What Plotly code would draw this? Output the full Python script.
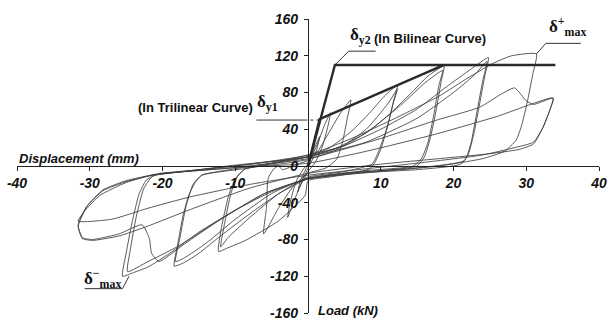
import plotly.graph_objects as go

# ---- hysteresis cycles: displacement (mm) / load (kN) ----
c0_disp = [0, 0.8, 1.6, 1.2, 0.3, -0.6, -1.4, -1.0, -0.2, 0]
c0_load = [0, 18, 32, 18, 2, -12, -28, -15, -2, 0]

c1_disp = [0, 1.2, 2.3, 3.1, 2.7, 2.0, 1.0, 0, -1.2, -2.2, -2.8, -2.4, -1.6, -0.5, 0]
c1_load = [2, 22, 45, 58, 42, 22, 4, -6, -24, -44, -56, -38, -16, -2, 2]

c2_disp = [-3.5, -1.5, 0, 1.5, 3.0, 4.5, 5.9, 5.4, 4.8, 4.0, 2.5, 0, -2.0, -4.0, -6.1, -5.7, -5.5, -4.8, -4.1, -3.5]
c2_load = [-4, 2, 6, 18, 38, 58, 72, 52, 28, 8, -2, -8, -22, -45, -74, -45, -14, -4, 0, -4]

c3_disp = [-8.6, -6, -3, 0, 3, 6, 8.5, 10.5, 12.3, 11.8, 11.0, 10.0, 9.2, 8.5, 6, 3, 0, -0.4, -4.1, -8.6, -11, -12.3, -11.9, -10.9, -10.0, -8.6]
c3_load = [-3, 1, 5, 10, 20, 38, 58, 76, 88, 72, 45, 18, 4, -3, -8, -12, -16, -32, -60, -81, -89, -93, -67, -32, -14, -3]

c3b_disp = [-8.6, -3, 0, 4, 8, 11, 12.3, 11.7, 10.8, 9.6, 8.8, 5, 0, -4, -8, -11, -12.0, -11.5, -10.6, -9.6, -8.6]
c3b_load = [-3, 3, 7, 18, 40, 68, 84, 68, 40, 14, 2, -6, -12, -30, -56, -78, -88, -64, -30, -10, -3]

c4_disp = [-14.6, -10, -5, 0, 4, 8, 11, 14, 16.5, 18.7, 18.3, 17.6, 16.8, 16.0, 15.0, 10, 5, 0, -4, -8, -12, -15, -17, -18.4, -17.9, -17.2, -16.4, -15.5, -14.6]
c4_load = [-10, -3, 3, 10, 20, 36, 55, 78, 98, 109, 92, 60, 30, 10, 0, -5, -8, -14, -30, -52, -76, -95, -105, -109, -85, -55, -32, -18, -10]

c4b_disp = [-14.6, -8, 0, 5, 9, 13, 16, 18.5, 18.0, 17.3, 16.5, 15.6, 14.5, 8, 0, -5, -10, -14, -17, -18.2, -17.6, -16.8, -15.8, -14.6]
c4b_load = [-10, -2, 12, 22, 42, 68, 90, 104, 88, 56, 26, 8, 0, -5, -13, -30, -58, -84, -100, -104, -78, -45, -20, -10]

c5_disp = [-21, -15, -10, -5, 0, 5, 10, 15, 19, 22.5, 24.8, 24.3, 23.6, 22.8, 22.0, 21, 15, 8, 0, -5, -10, -15, -19, -22, -24, -25.5, -25.0, -24.2, -23.2, -22.2, -21]
c5_load = [-10, -4, 1, 5, 10, 22, 40, 62, 86, 106, 118, 98, 68, 35, 12, 2, -4, -7, -14, -28, -48, -72, -95, -110, -116, -120, -95, -62, -30, -15, -10]

c5b_disp = [-21, -10, 0, 8, 15, 20, 23, 24.6, 24.0, 23.2, 22.4, 21.5, 15, 5, 0, -6, -12, -18, -22, -24.8, -24.4, -23.6, -22.6, -21.5, -21]
c5b_load = [-10, 0, 10, 26, 52, 80, 100, 114, 92, 58, 25, 6, -2, -8, -14, -30, -58, -88, -104, -115, -90, -55, -25, -12, -10]

c6_disp = [-20.5, -15, -8, 0, 6, 12, 18, 22, 25.5, 28, 31.4, 30.9, 30.2, 29.4, 28.6, 27, 24, 18, 10, 0, -6, -12, -17, -20.5, -21.5, -21.8, -22.8, -26, -29.6, -31, -31.6, -30.4, -28.2, -25, -20.9]
c6_load = [-8, -4, 2, 12, 30, 52, 76, 96, 112, 120, 122, 100, 72, 45, 28, 16, 8, 0, -6, -14, -30, -58, -85, -104, -95, -79, -64, -74, -80, -78, -64, -44, -27, -17, -9]

c7_disp = [-20.9, -12, 0, 10, 17.7, 23.6, 26.5, 28.4, 30, 31, 33.7, 33.2, 32.3, 31, 29, 24.5, 18, 10, 0, -8, -16.4, -22.2, -25.9, -29.6, -31, -31.6, -30.4, -28.2, -25, -20.9]
c7_load = [-9, -3, 8, 30, 50, 64, 78, 85, 71, 67, 74, 60, 42, 24, 18, 13, 8, 2, -8, -24, -48, -66, -76, -81, -79, -66, -44, -26, -16, -9]

c8_disp = [-20.9, -10, 0, 8, 17.7, 26, 33.7, 33.2, 32.3, 31, 28.4, 24, 16, 8, 0, -8, -16.4, -22, -27, -31.6, -30.6, -28.6, -25, -20.9]
c8_load = [-9, -2, 3, 16, 35, 54, 74, 60, 42, 26, 20, 12, 4, -3, -10, -20, -34, -46, -58, -60, -48, -32, -18, -9]

cycles = [
    (c0_disp, c0_load), (c1_disp, c1_load), (c2_disp, c2_load),
    (c3_disp, c3_load), (c3b_disp, c3b_load),
    (c4_disp, c4_load), (c4b_disp, c4b_load),
    (c5_disp, c5_load), (c5b_disp, c5b_load),
    (c6_disp, c6_load), (c7_disp, c7_load), (c8_disp, c8_load),
]

# ---- idealised backbone curves ----
bilinear_disp = [0, 3.7, 34]
bilinear_load = [0, 110, 110]
trilinear_disp = [0, 1.6, 18.7]
trilinear_load = [0, 51, 110]

x_ticks = [-40, -30, -20, -10, 10, 20, 30, 40]
y_ticks = [-160, -120, -80, -40, 0, 40, 80, 120, 160]

fig = go.Figure()

for d, f in cycles:
    fig.add_trace(go.Scatter(
        x=d, y=f, mode="lines",
        line=dict(color="#3c3c3c", width=0.85, shape="spline", smoothing=0.5),
        hoverinfo="skip", showlegend=False))

fig.add_trace(go.Scatter(
    x=trilinear_disp, y=trilinear_load, mode="lines",
    line=dict(color="#2a2a2a", width=2.4), showlegend=False))
fig.add_trace(go.Scatter(
    x=bilinear_disp, y=bilinear_load, mode="lines",
    line=dict(color="#2a2a2a", width=2.4), showlegend=False))

# leader lines for the labelled points
leader = dict(color="#333", width=1)
fig.add_trace(go.Scatter(x=[9.3, 5.6, 3.7], y=[125, 125, 110], mode="lines",
                         line=leader, showlegend=False))
fig.add_trace(go.Scatter(x=[37.5, 32.7, 31.4], y=[133.5, 133.5, 122], mode="lines",
                         line=leader, showlegend=False))
fig.add_trace(go.Scatter(x=[-30.7, -25.5, -24.6], y=[-133.5, -133.5, -120], mode="lines",
                         line=leader, showlegend=False))
fig.add_trace(go.Scatter(x=[-7.1, -0.5], y=[50, 50], mode="lines",
                         line=leader, showlegend=False))
fig.add_trace(go.Scatter(x=[-0.5, 1.6], y=[50, 50], mode="lines",
                         line=dict(color="#333", width=1, dash="dot"), showlegend=False))

axis_font = dict(family="Liberation Sans", size=14, color="#111", weight="bold", style="italic")
title_font = dict(family="Liberation Sans", size=13, color="#111", weight="bold", style="italic")

fig.update_layout(
    width=612, height=326,
    margin=dict(l=17, r=8, t=19, b=5),
    paper_bgcolor="white", plot_bgcolor="white",
    xaxis=dict(range=[-40, 40], anchor="free", position=0.5,
               showline=True, linecolor="#222", linewidth=1.3,
               ticks="outside", ticklen=4, tickcolor="#222",
               tickvals=x_ticks, ticktext=[str(v) for v in x_ticks],
               tickfont=axis_font, ticklabeloverflow="allow",
               showgrid=False, zeroline=False),
    yaxis=dict(range=[-160, 160], anchor="free", position=0.5,
               showline=True, linecolor="#222", linewidth=1.3,
               ticks="outside", ticklen=4, tickcolor="#222",
               tickvals=y_ticks, ticktext=[str(v) for v in y_ticks],
               tickfont=axis_font, ticklabeloverflow="allow",
               ticklabelstandoff=3,
               showgrid=False, zeroline=False),
)

label_font = dict(family="Liberation Sans", size=13, color="#111", weight="bold")
delta_font = dict(family="Liberation Serif", size=17, color="#111", weight="bold")

annotations = [
    dict(x=0.0, y=0.527, xref="paper", yref="paper", text="Displacement (mm)",
         xanchor="left", yanchor="middle", font=title_font),
    dict(x=1.1, y=-157, text="Load (kN)", xanchor="left", font=title_font),
    dict(x=5.5, y=141, text="δ<sub>y2</sub>", xanchor="left", font=delta_font),
    dict(x=8.8, y=139, text="(In Bilinear Curve)", xanchor="left", font=label_font),
    dict(x=32.9, y=152, text="δ<sup>+</sup><sub>max</sub>", xanchor="left", font=delta_font),
    dict(x=-31.0, y=-122, text="δ<sup>−</sup><sub>max</sub>", xanchor="left", font=delta_font),
    dict(x=-7.3, y=69, text="δ<sub>y1</sub>", xanchor="left", font=delta_font),
    dict(x=-7.3, y=63.5, text="(In Trilinear Curve)", xanchor="right", font=label_font),
]
for a in annotations:
    a.setdefault("xref", "x")
    a.setdefault("yref", "y")
    a["showarrow"] = False
fig.update_layout(annotations=annotations)

fig.write_html("out.html")
